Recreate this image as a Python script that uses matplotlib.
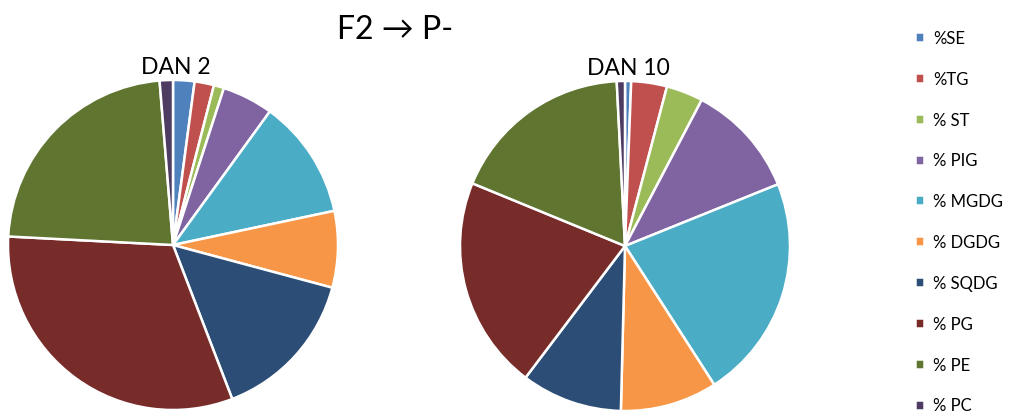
import matplotlib.pyplot as plt

plt.rcParams['font.family'] = ['Lato', 'DejaVu Sans']

labels = ["%SE", "%TG", "% ST", "% PIG", "% MGDG", "% DGDG", "% SQDG", "% PG", "% PE", "% PC"]
colors = ["#4F81BD", "#C0504D", "#9BBB59", "#8064A2", "#4BACC6",
          "#F79646", "#2C4D75", "#772C2A", "#5F7530", "#4D3B62"]

# percentages
dan2 = [2.1, 1.9, 1.0, 5.0, 11.7, 7.5, 15.0, 31.7, 22.9, 1.3]
dan10 = [0.6, 3.5, 3.6, 11.2, 22.0, 9.5, 9.9, 20.9, 18.0, 0.8]

W, H = 1014, 414
fig = plt.figure(figsize=(W / 100, H / 100), dpi=100)

def pie_axes(cx, cy, r):
    return fig.add_axes([(cx - r) / W, (H - cy - r) / H, 2 * r / W, 2 * r / H])

ax1 = pie_axes(173, 246, 165)
ax2 = pie_axes(625, 247, 165)

for ax, vals, name in [(ax1, dan2, "DAN 2"), (ax2, dan10, "DAN 10")]:
    wedges, _ = ax.pie(vals, colors=colors, startangle=90, counterclock=False,
                       wedgeprops=dict(edgecolor='white', linewidth=1.8))
    ax.set_xlim(-1, 1)
    ax.set_ylim(-1, 1)
    ax.text(0.02, 1.02, name, ha='center', va='bottom', fontsize=16.5, color='black')

fig.text(395 / W, 1 - 30 / H, "F2 \u2192 P-", ha='center', va='center', fontsize=23)

fig.legend(wedges, labels, loc='upper left', bbox_to_anchor=(900 / W, 1 - 16 / H),
           frameon=False, fontsize=12, handlelength=0.55, handleheight=0.55,
           handletextpad=0.55, labelspacing=1.49)

fig.savefig("out.png", dpi=100)
